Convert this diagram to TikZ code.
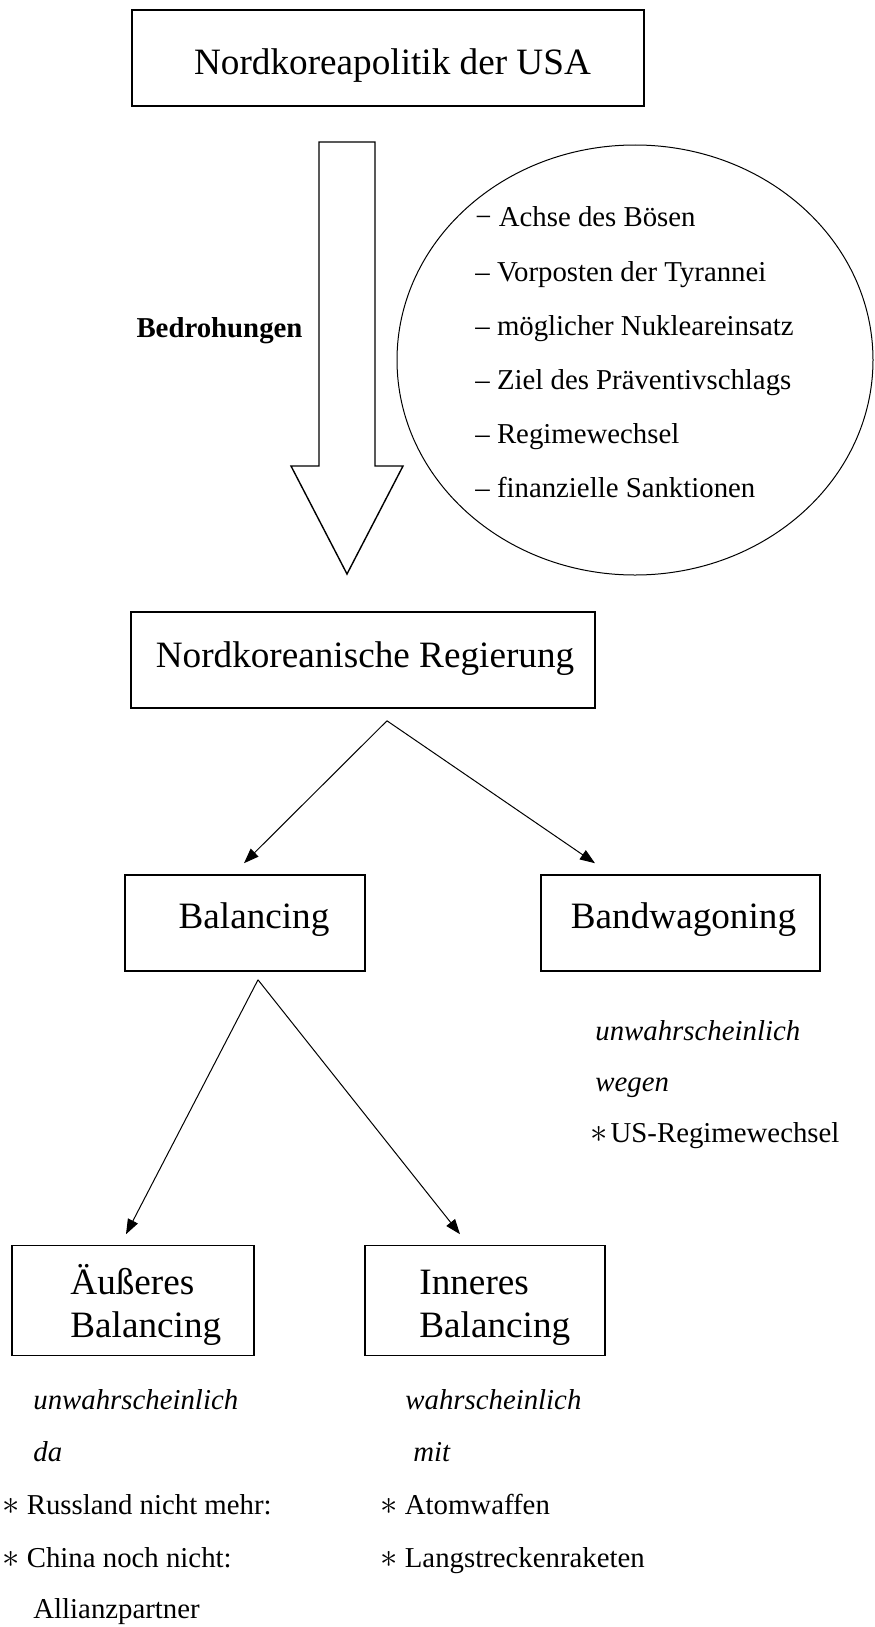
\documentclass[tikz,border=0pt]{standalone}
\usepackage{fontspec}
\setmainfont{Liberation Serif}
\usetikzlibrary{arrows.meta,shapes.geometric}

\newcommand{\stern}{{\fontsize{18}{18}\selectfont$\ast$}}

\tikzset{
  kasten/.style={draw, line width=0.8pt, inner sep=0pt, minimum height=48pt},
  gross/.style={font=\fontsize{18.6}{22}\selectfont, inner sep=0pt},
  klein/.style={font=\fontsize{14.4}{17}\selectfont, inner sep=0pt},
  schraeg/.style={font=\fontsize{14.4}{17}\selectfont\itshape, inner sep=0pt},
  fett/.style={font=\fontsize{14.4}{17}\selectfont\bfseries, inner sep=0pt},
  pfeil/.style={-{Triangle[length=7.5pt,width=5.5pt]}, line width=0.5pt},
}

\begin{document}
\begin{tikzpicture}[x=0.5pt, y=-0.5pt]
\useasboundingbox (0,0) rectangle (874,1627);

% oberste Ebene
\node[kasten, minimum width=256pt] (usa) at (388,58) {};
\node[gross, anchor=base] (usatext) at (392.5,75) {Nordkoreapolitik der USA};

% Blockpfeil mit Beschriftung
\draw[line width=0.7pt] (319,142) -- (375,142) -- (375,466) -- (403,466)
  -- (347,574) -- (291,466) -- (319,466) -- cycle;
\node[fett, anchor=base] (bedr) at (219.5,337) {Bedrohungen};

% Ellipse mit den Drohungen
\node[draw, ellipse, line width=0.5pt, inner sep=0pt,
  minimum width=238pt, minimum height=215pt] (drohung) at (635,360) {};
\node[klein, anchor=base west] (dr1) at (475,226) {− Achse des Bösen};
\node[klein, anchor=base west] (dr2) at (475,281) {– Vorposten der Tyrannei};
\node[klein, anchor=base west] (dr3) at (475,335) {– möglicher Nukleareinsatz};
\node[klein, anchor=base west] (dr4) at (475,389) {– Ziel des Präventivschlags};
\node[klein, anchor=base west] (dr5) at (475,443) {– Regimewechsel};
\node[klein, anchor=base west] (dr6) at (475,497) {– finanzielle Sanktionen};

% Regierung
\node[kasten, minimum width=232pt] (nkr) at (363,660) {};
\node[gross, anchor=base] (nkrtext) at (365,667) {Nordkoreanische Regierung};
\coordinate (nkrgabel) at ([shift={(24,12)}]nkr.south);

% Balancing / Bandwagoning
\node[kasten, minimum width=120pt] (bal) at (245,923) {};
\node[gross, anchor=base] (baltext) at (254,928) {Balancing};
\node[kasten, minimum width=139.5pt] (bw) at (680.5,923) {};
\node[gross, anchor=base] (bwtext) at (683.5,928) {Bandwagoning};

\draw[pfeil] (nkrgabel) -- ([shift={(-1,-11)}]bal.north);
\draw[pfeil] (nkrgabel) -- ([shift={(-85.5,-11)}]bw.north);

\node[schraeg, anchor=base west] (bw1) at (595,1040) {unwahrscheinlich};
\node[schraeg, anchor=base west] (bw2) at (595,1091) {wegen};
\node[klein, anchor=base west] (bw3) at (590,1142) {\stern\hspace{1.5pt}US-Regimewechsel};

% aeusseres / inneres Balancing
\coordinate (balgabel) at ([shift={(13,8)}]bal.south);
\node[kasten, minimum width=121pt, minimum height=55pt] (aeb) at (133,1300.5) {};
\node[gross, anchor=base west] (aebtext1) at (70,1294) {Äußeres};
\node[gross, anchor=base west] (aebtext2) at (70,1337) {Balancing};
\node[kasten, minimum width=120pt, minimum height=55pt] (inb) at (485,1300.5) {};
\node[gross, anchor=base west] (inbtext1) at (419,1294) {Inneres};
\node[gross, anchor=base west] (inbtext2) at (419,1337) {Balancing};

\draw[pfeil] (balgabel) -- ([shift={(-7,-10.5)}]aeb.north);
\draw[pfeil] (balgabel) -- ([shift={(-25,-10.5)}]inb.north);

\node[schraeg, anchor=base west] (ae1) at (33,1409) {unwahrscheinlich};
\node[schraeg, anchor=base west] (ae2) at (33,1461) {da};
\node[klein, anchor=base west] (ae3) at (2,1514) {\stern{} Russland nicht mehr:};
\node[klein, anchor=base west] (ae4) at (2,1567) {\stern{} China noch nicht:};
\node[klein, anchor=base west] (ae5) at (33,1618) {Allianzpartner};

\node[schraeg, anchor=base west] (in1) at (405,1409) {wahrscheinlich};
\node[schraeg, anchor=base west] (in2) at (413,1461) {mit};
\node[klein, anchor=base west] (in3) at (380,1514) {\stern{} Atomwaffen};
\node[klein, anchor=base west] (in4) at (380,1567) {\stern{} Langstreckenraketen};
\end{tikzpicture}
\end{document}
